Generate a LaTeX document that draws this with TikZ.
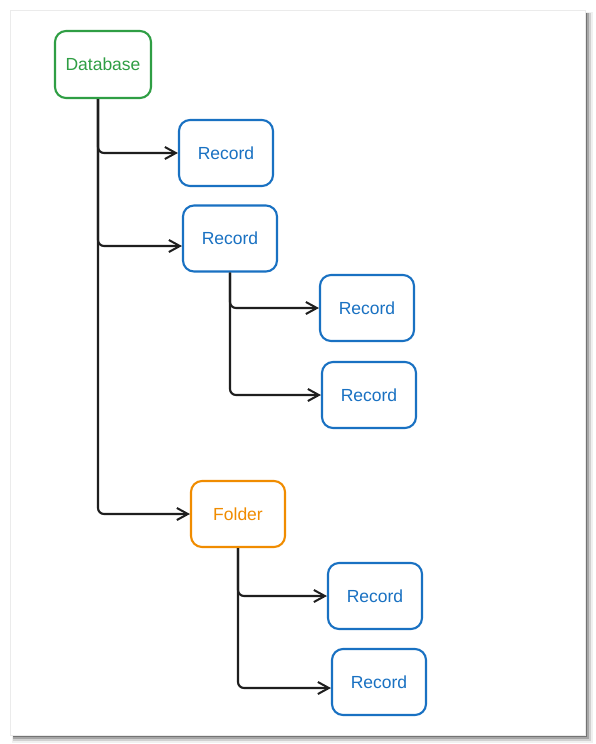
\documentclass[tikz,border=0pt]{standalone}
\usepackage{fontspec}
\setmainfont{Liberation Sans}
\usetikzlibrary{arrows.meta}
\definecolor{exgreen}{HTML}{2F9E44}
\definecolor{exblue}{HTML}{1971C2}
\definecolor{exorange}{HTML}{F08C00}
\definecolor{exink}{HTML}{1E1E1E}
\tikzset{
  box/.style={draw, line width=2.1pt, rounded corners=11pt, minimum width=94pt, minimum height=66pt, inner sep=0pt, fill=white, font=\fontsize{17.5}{20}\selectfont},
  dbbox/.style={box, draw=exgreen, text=exgreen, minimum width=96pt, minimum height=67pt},
  recbox/.style={box, draw=exblue, text=exblue},
  folderbox/.style={box, draw=exorange, text=exorange},
  conn/.style={draw=exink, line width=2.1pt, rounded corners=6pt, -{Straight Barb[length=11pt,width=12pt,line width=2pt]}}
}
\begin{document}
\begin{tikzpicture}[x=1pt,y=-1pt]
\useasboundingbox (0,0) rectangle (596,744);
% card with shadow
\fill[black!6] (12,12) rectangle (593,743);
\fill[black!18] (13,13) rectangle (591,741);
\fill[black!35] (13,13) rectangle (589,739);
\fill[black!55] (13,13) rectangle (587,737);
\fill[white, draw=black!8, line width=0.6pt] (10,10) rectangle (585,735);
% nodes
\node[dbbox] (db) at (103,64.5) {Database};
\node[recbox] (r1) at (226,153) {Record};
\node[recbox] (r2) at (230,238.5) {Record};
\node[recbox] (r3) at (367,308) {Record};
\node[recbox] (r4) at (369,395) {Record};
\node[folderbox] (f) at (238,514) {Folder};
\node[recbox] (r5) at (375,596) {Record};
\node[recbox] (r6) at (379,682) {Record};
% connectors
\draw[conn] ([xshift=-5pt]db.south) |- (r1.west);
\draw[conn] ([xshift=-5pt]db.south) |- ([yshift=-7.5pt]r2.west);
\draw[conn] ([xshift=-5pt]db.south) |- (f.west);
\draw[conn] (r2.south) |- (r3.west);
\draw[conn] (r2.south) |- (r4.west);
\draw[conn] (f.south) |- (r5.west);
\draw[conn] (f.south) |- ([yshift=-6pt]r6.west);
\end{tikzpicture}
\end{document}
